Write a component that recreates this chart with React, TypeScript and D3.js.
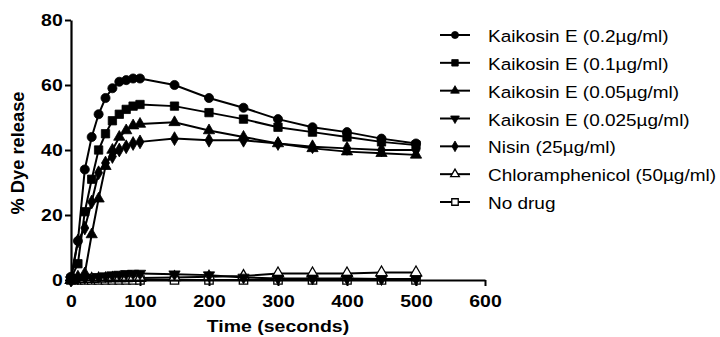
import React, { useEffect, useRef } from 'react';
import * as d3 from 'd3';

const times = [0, 10, 20, 30, 40, 50, 60, 70, 80, 90, 100, 150, 200, 250, 300, 350, 400, 450, 500];

const seriesNames = [
  'Kaikosin E (0.2µg/ml)',
  'Kaikosin E (0.1µg/ml)',
  'Kaikosin E (0.05µg/ml)',
  'Kaikosin E (0.025µg/ml)',
  'Nisin (25µg/ml)',
  'Chloramphenicol (50µg/ml)',
  'No drug',
];

const kaikosin02 = [1, 12, 34, 44, 51, 56, 59, 61, 61.5, 62, 62, 60, 56, 53, 49.5, 47, 45.5, 43.5, 42];
const kaikosin01 = [0.5, 5, 21, 31, 40, 45, 49, 51, 52.5, 53.5, 54, 53.5, 51.5, 49.5, 47, 45.5, 44, 42.5, 41.5];
const kaikosin005 = [0, 1, 2, 14, 25, 35, 40, 44, 46, 47.5, 48, 48.5, 46, 44, 42, 40.5, 39.5, 39, 38.5];
const kaikosin0025 = [0, 0.5, 0.7, 0.8, 1, 1.2, 1.5, 1.7, 1.9, 2, 2, 1.8, 1.5, 0.8, 0.5, 0.5, 0.5, 0.3, 0.3];
const nisin = [0, 12, 16, 24, 33, 36, 38, 40, 41, 42, 42.5, 43.5, 43, 43, 42, 41, 40.5, 40, 40];
const chloramphenicol = [0, 0.2, 0.3, 0.3, 0.4, 0.4, 0.5, 0.5, 0.5, 0.6, 0.6, 0.8, 1, 1.2, 2, 2, 2, 2.3, 2.3];
const noDrug = [0, 0, 0, 0, 0, 0, 0, 0, 0, 0, 0, 0, 0, 0, 0, 0, 0, 0, 0];

const seriesValues = [kaikosin02, kaikosin01, kaikosin005, kaikosin0025, nisin, chloramphenicol, noDrug];
const markers = ['circle', 'square', 'triangle', 'down', 'diamond', 'openTriangle', 'openSquare'];

const xTicks = [0, 100, 200, 300, 400, 500, 600];
const yTicks = [0, 20, 40, 60, 80];

const font = 'Arial, "Liberation Sans", sans-serif';
const stretch = 1.18; // the source image is a bit wider than tall
const legendStretch = 1.15;

const drawMarker = (g, type, x, y, k = 1) => {
  const open = type === 'openTriangle' || type === 'openSquare';
  let sym;
  let size;
  if (type === 'circle') { sym = d3.symbolCircle; size = 65; }
  else if (type === 'square' || type === 'openSquare') { sym = d3.symbolSquare; size = 70; }
  else if (type === 'diamond') { sym = d3.symbolDiamond; size = 55; }
  else { sym = d3.symbolTriangle; size = 55; }
  const rot = type === 'down' ? ' rotate(180)' : '';
  g.append('path')
    .attr('d', d3.symbol().type(sym).size(size * k)())
    .attr('fill', open ? '#fff' : '#000')
    .attr('stroke', '#000')
    .attr('stroke-width', open ? 1.3 : 0.8)
    .attr('transform', `translate(${x},${y})${rot}`);
};

const App = () => {
  const svgRef = useRef(null);

  useEffect(() => {
    const svg = d3.select(svgRef.current);
    svg.selectAll('*').remove();

    const x = d3.scaleLinear().domain([0, 600]).range([71, 485]);
    const y = d3.scaleLinear().domain([0, 80]).range([280, 20]);

    // series, back to front
    for (let s = seriesValues.length - 1; s >= 0; s--) {
      const vals = seriesValues[s];
      const line = d3.line().x((d, i) => x(times[i])).y(d => y(d));
      svg.append('path')
        .attr('d', line(vals))
        .attr('fill', 'none')
        .attr('stroke', '#000')
        .attr('stroke-width', 2);
      const g = svg.append('g');
      vals.forEach((v, i) => drawMarker(g, markers[s], x(times[i]), y(v)));
    }

    const axisStyle = (g) => {
      g.selectAll('path.domain').attr('stroke', '#000').attr('stroke-width', 2.2);
      g.selectAll('line').attr('stroke', '#000').attr('stroke-width', 2);
      g.selectAll('text')
        .attr('font-family', font)
        .attr('font-weight', 'bold')
        .attr('font-size', 16.5)
        .attr('fill', '#000')
        .attr('transform', `scale(${stretch},1)`);
    };

    svg.append('g')
      .attr('transform', `translate(0,${y(0)})`)
      .call(d3.axisBottom(x).tickValues(xTicks).tickSize(6).tickSizeOuter(0).tickPadding(9))
      .call(axisStyle);

    svg.append('g')
      .attr('transform', `translate(${x(0)},0)`)
      .call(d3.axisLeft(y).tickValues(yTicks).tickSize(6).tickSizeOuter(0).tickPadding(1))
      .call(axisStyle);

    svg.append('text')
      .attr('transform', `translate(278,332) scale(${stretch},1)`)
      .attr('text-anchor', 'middle')
      .attr('font-family', font)
      .attr('font-weight', 'bold')
      .attr('font-size', 16.5)
      .text('Time (seconds)');

    svg.append('text')
      .attr('transform', 'translate(24,153) rotate(-90)')
      .attr('text-anchor', 'middle')
      .attr('font-family', font)
      .attr('font-weight', 'bold')
      .attr('font-size', 18)
      .attr('textLength', 123)
      .attr('lengthAdjust', 'spacingAndGlyphs')
      .text('% Dye release');

    // legend
    const legendY = d3.scalePoint().domain(seriesNames).range([35, 202]);
    seriesNames.forEach((name, s) => {
      const ly = legendY(name);
      svg.append('line')
        .attr('x1', 440).attr('x2', 470)
        .attr('y1', ly).attr('y2', ly)
        .attr('stroke', '#000').attr('stroke-width', 2);
      drawMarker(svg.append('g'), markers[s], 455, ly, 0.6);
      svg.append('text')
        .attr('transform', `translate(488,${ly + 7}) scale(${legendStretch},1)`)
        .attr('font-family', font)
        .attr('font-size', 16.5)
        .attr('fill', '#000')
        .text(name);
    });
  }, []);

  return (
    <svg
      ref={svgRef}
      width={720}
      height={337}
      style={{ position: 'absolute', left: 0, top: 0, background: '#fff' }}
    />
  );
};

export default App;
